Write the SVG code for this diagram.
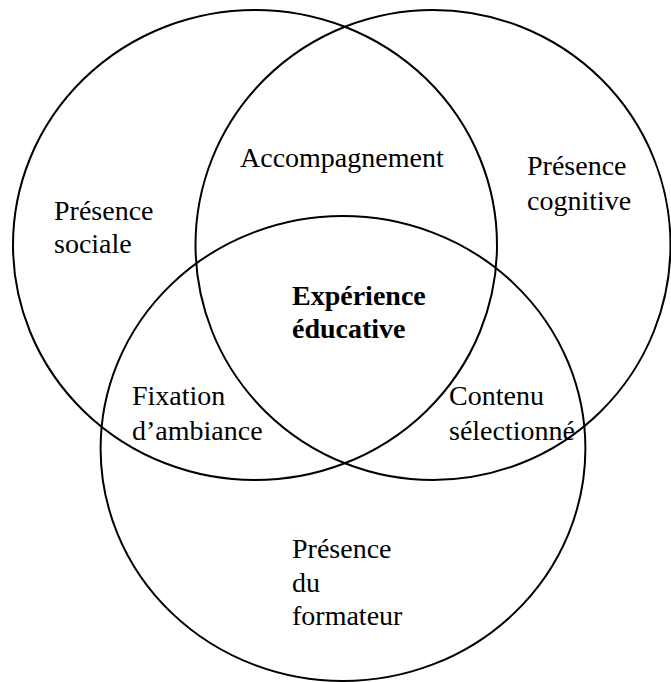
<svg xmlns="http://www.w3.org/2000/svg" width="671" height="682" viewBox="0 0 671 682">
<style>
.c{fill:none;stroke:#000;stroke-width:2}
.t{font-family:"Liberation Serif","Times New Roman",serif;font-size:28px;fill:#000}
.b{font-weight:bold}
</style>
<rect width="671" height="682" fill="#fff"/>
<g id="connectors"></g>
<g id="social">
<ellipse class="c" cx="255" cy="245" rx="242" ry="235"/>
<text class="t" x="54" y="220">Présence</text>
<text class="t" x="54" y="253">sociale</text>
</g>
<g id="cognitive">
<ellipse class="c" cx="433" cy="245" rx="237.5" ry="235"/>
<text class="t" x="527" y="175">Présence</text>
<text class="t" x="527" y="210">cognitive</text>
</g>
<g id="formateur">
<ellipse class="c" cx="343" cy="448.5" rx="242.4" ry="232.5"/>
<text class="t" x="292" y="558">Présence</text>
<text class="t" x="292" y="592">du</text>
<text class="t" x="292" y="625">formateur</text>
</g>
<g id="accompagnement">
<text class="t" x="240" y="167">Accompagnement</text>
</g>
<g id="experience">
<text class="t b" x="292" y="305">Expérience</text>
<text class="t b" x="292" y="338">éducative</text>
</g>
<g id="fixation">
<text class="t" x="132" y="405">Fixation</text>
<text class="t" x="132" y="440">d’ambiance</text>
</g>
<g id="contenu">
<text class="t" x="449" y="405">Contenu</text>
<text class="t" x="449" y="440">sélectionné</text>
</g>
</svg>
